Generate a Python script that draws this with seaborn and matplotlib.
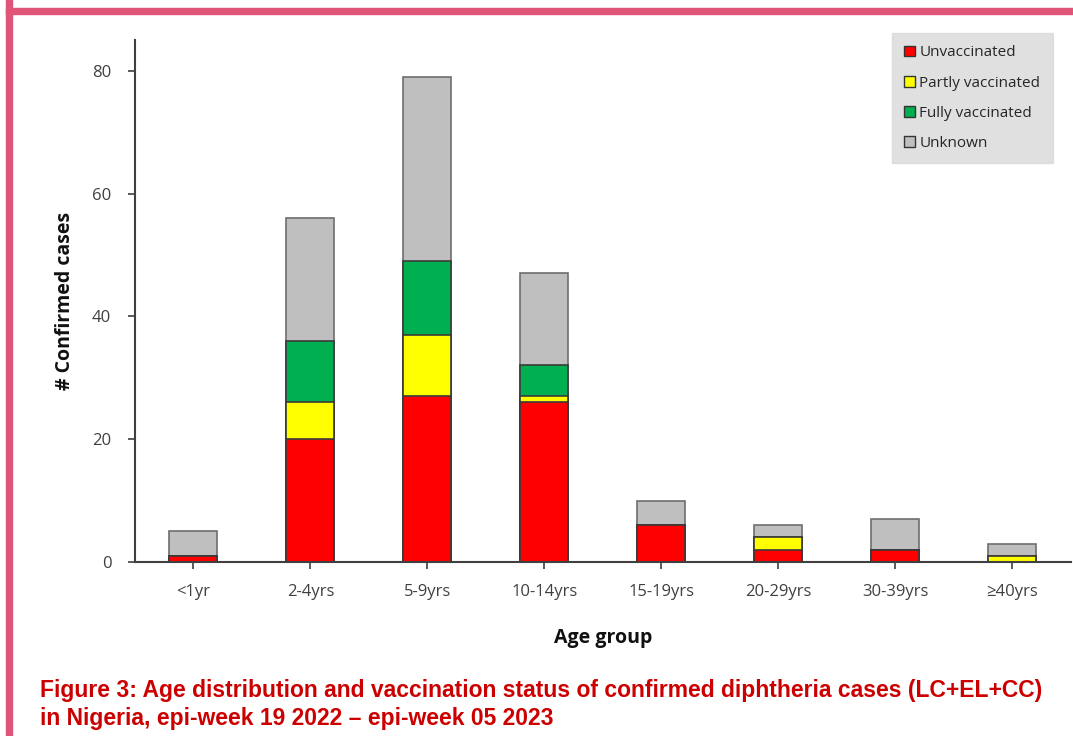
import pandas as pd
import seaborn as sns
import matplotlib.pyplot as plt
from matplotlib.patches import Patch, Rectangle

age_groups = ['<1yr', '2-4yrs', '5-9yrs', '10-14yrs', '15-19yrs', '20-29yrs', '30-39yrs', '≥40yrs']
unvaccinated = [1, 20, 27, 26, 6, 2, 2, 0]
partly = [0, 6, 10, 1, 0, 2, 0, 1]
fully = [0, 10, 12, 5, 0, 0, 0, 0]
unknown = [4, 20, 30, 15, 4, 2, 5, 2]

status_labels = ['Unvaccinated', 'Partly vaccinated', 'Fully vaccinated', 'Unknown']
status_colors = ['#ff0000', '#ffff00', '#00b050', '#bfbfbf']
edge_colors = ['#3a3a3a', '#3a3a3a', '#3a3a3a', '#6e6e6e']

df = pd.DataFrame({'age': age_groups, 'u': unvaccinated, 'p': partly,
                   'f': fully, 'k': unknown})
# cumulative heights, drawn from the tallest down so the segments stack
df['c_u'] = df['u']
df['c_p'] = df['c_u'] + df['p']
df['c_f'] = df['c_p'] + df['f']
df['c_k'] = df['c_f'] + df['k']

sns.set_style('white')
plt.rcParams['font.family'] = ['Open Sans', 'DejaVu Sans']

fig = plt.figure(figsize=(10.73, 7.36), dpi=100)
ax = fig.add_axes([0.1258, 0.2364, 0.872, 0.7093])

for col, color, ec in zip(['c_k', 'c_f', 'c_p', 'c_u'], status_colors[::-1], edge_colors[::-1]):
    sns.barplot(x='age', y=col, data=df, order=age_groups, color=color,
                saturation=1, width=0.41, edgecolor=ec, linewidth=1.2,
                errorbar=None, ax=ax)

ax.set_ylim(0, 85)
ax.set_xlim(-0.5, 7.5)
ax.set_yticks([0, 20, 40, 60, 80])
ax.set_xlabel('Age group', fontsize=14, fontweight='bold', labelpad=20, color='#111111')
ax.set_ylabel('# Confirmed cases', fontsize=14, fontweight='bold', labelpad=12, color='#111111')
ax.tick_params(axis='both', labelsize=12, colors='#404040', length=5, width=1.2,
               direction='out', bottom=True, left=True)
ax.tick_params(axis='x', pad=11)
ax.tick_params(axis='y', pad=12)
for s in ['top', 'right']:
    ax.spines[s].set_visible(False)
for s in ['left', 'bottom']:
    ax.spines[s].set_color('#404040')
    ax.spines[s].set_linewidth(1.5)

handles = [Patch(facecolor=c, edgecolor='#333333', linewidth=1) for c in status_colors]
leg = ax.legend(handles, status_labels, loc='upper right',
                bbox_to_anchor=(0.981, 0.955), bbox_transform=fig.transFigure,
                borderaxespad=0, frameon=True, fancybox=False, fontsize=11,
                handlelength=0.7, handleheight=0.7, handletextpad=0.3,
                labelspacing=1.0, borderpad=0.8)
leg.get_frame().set_facecolor('#d9d9d9')
leg.get_frame().set_edgecolor('#d9d9d9')
for t in leg.get_texts():
    t.set_color('#262626')

# page border
fig.patches.append(Rectangle((6 / 1073, -0.1), 6 / 1073, 1.2, transform=fig.transFigure,
                             color='#e05577', zorder=0))
fig.patches.append(Rectangle((6 / 1073, 1 - 14 / 736), 1.1, 6 / 736, transform=fig.transFigure,
                             color='#e05577', zorder=0))

fig.text(40 / 1073, 1 - 691 / 736,
         'Figure 3: Age distribution and vaccination status of confirmed diphtheria cases (LC+EL+CC)',
         fontsize=16.5, fontweight='bold', color='#cc0000', va='center',
         family=['Liberation Sans Narrow', 'Liberation Sans', 'DejaVu Sans'])
fig.text(40 / 1073, 1 - 719 / 736,
         'in Nigeria, epi-week 19 2022 \u2013 epi-week 05 2023',
         fontsize=16.5, fontweight='bold', color='#cc0000', va='center',
         family=['Liberation Sans Narrow', 'Liberation Sans', 'DejaVu Sans'])

fig.savefig('out.png', dpi=100)
